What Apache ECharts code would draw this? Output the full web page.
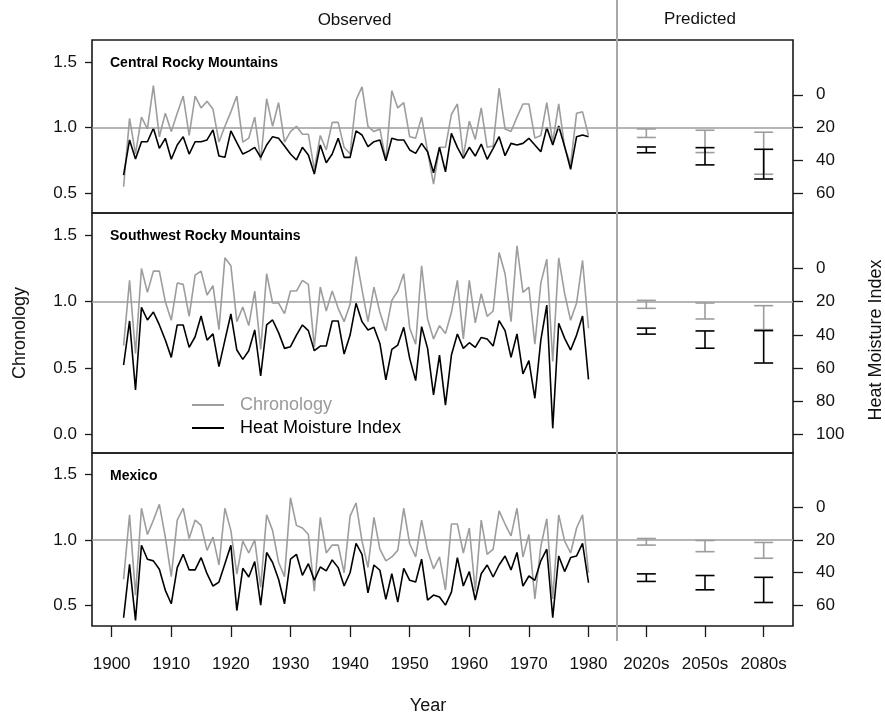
<!DOCTYPE html>
<html>
<head>
<meta charset="utf-8">
<script src="https://cdn.jsdelivr.net/npm/echarts@6/dist/echarts.min.js"></script>
<style>
html,body{margin:0;padding:0;background:#fff;}
#chart{width:885px;height:717px;}
</style>
</head>
<body>
<div id="chart"></div>
<script>
// ---------------- DATA ----------------
const years = [1902,1903,1904,1905,1906,1907,1908,1909,1910,1911,1912,1913,1914,1915,1916,1917,1918,1919,1920,1921,
  1922,1923,1924,1925,1926,1927,1928,1929,1930,1931,1932,1933,1934,1935,1936,1937,1938,1939,1940,1941,
  1942,1943,1944,1945,1946,1947,1948,1949,1950,1951,1952,1953,1954,1955,1956,1957,1958,1959,1960,1961,
  1962,1963,1964,1965,1966,1967,1968,1969,1970,1971,1972,1973,1974,1975,1976,1977,1978,1979,1980];

const yearTicks = [1900,1910,1920,1930,1940,1950,1960,1970,1980];
const periods = ['2020s','2050s','2080s'];

const regionNames = ['Central Rocky Mountains','Southwest Rocky Mountains','Mexico'];

// Central Rocky Mountains
const crmChron = [0.55,1.07,0.80,1.08,0.99,1.32,0.93,1.11,0.97,1.11,
  1.24,0.94,1.24,1.15,1.20,1.14,0.89,1.01,1.12,1.24,
  0.89,0.92,1.08,0.75,1.22,1.01,1.19,0.89,0.97,1.01,
  0.95,0.95,0.68,0.94,0.83,1.04,1.04,0.85,0.80,1.21,
  1.31,1.01,0.97,0.99,0.75,1.28,1.15,1.19,0.93,0.92,
  1.08,0.82,0.57,0.85,0.85,1.10,1.18,0.78,1.05,0.91,
  1.15,0.85,0.86,1.30,0.99,0.97,1.08,1.18,1.18,0.92,
  0.94,1.19,0.89,1.18,0.85,0.72,1.11,1.12,0.94];
const crmHmi = [48.9,27.5,39.1,28.6,28.6,20.4,32.6,26.5,39.3,30.6,
  25.5,36.1,28.6,28.6,27.5,21.4,37.3,38.1,22.0,29.2,
  36.1,34.3,32.0,38.1,30.6,25.5,26.5,31.2,36.1,39.7,
  32.0,36.7,48.3,30.6,41.4,36.1,26.5,38.1,38.1,22.0,
  24.5,31.6,28.6,27.5,40.2,26.5,27.5,27.5,33.6,35.7,
  29.6,34.7,47.5,32.0,46.9,23.5,32.0,38.7,32.0,37.3,
  30.0,39.3,32.6,25.5,37.1,29.6,30.6,29.6,26.5,30.6,
  34.7,20.0,30.6,19.0,31.6,45.4,25.5,24.5,25.5];

// Southwest Rocky Mountains
const swChron = [0.67,1.16,0.61,1.25,1.07,1.23,1.23,1.00,0.86,1.14,
  1.13,0.89,1.20,1.23,1.05,1.12,0.79,1.33,1.27,0.85,
  0.96,0.82,1.08,0.64,1.21,0.99,0.99,0.91,1.08,1.08,
  1.16,1.13,0.66,1.11,0.93,1.08,0.95,0.85,0.98,1.34,
  1.09,0.85,1.11,0.92,0.78,1.01,1.08,1.21,0.80,0.68,
  1.27,0.87,0.72,0.82,0.76,0.92,1.16,0.72,1.16,0.84,
  1.06,0.89,0.93,1.37,1.21,0.85,1.42,1.07,1.11,0.68,
  1.14,1.32,0.55,1.33,1.06,0.86,0.99,1.31,0.80];
const swHmi = [58.1,31.6,73.1,23.4,31.0,26.2,34.0,43.1,53.5,34.0,
  34.0,47.5,41.1,28.6,43.1,39.4,59.1,43.1,27.4,49.1,
  54.7,49.5,37.0,64.7,34.0,31.0,38.6,48.1,47.1,40.1,
  34.0,37.4,49.5,46.7,46.7,31.6,31.6,51.5,40.1,21.0,
  32.0,37.0,35.4,45.1,67.1,48.7,46.1,35.4,54.1,67.5,
  35.0,48.1,76.1,52.1,82.2,52.1,39.4,48.1,44.7,47.5,
  41.5,42.5,46.7,31.4,37.4,53.5,39.4,63.5,55.5,78.1,
  43.1,22.0,96.2,33.0,42.1,49.1,40.1,28.6,66.7];

// Mexico
const mxChron = [0.70,1.19,0.58,1.24,1.04,1.15,1.27,1.02,0.72,1.15,
  1.24,1.01,1.15,1.11,0.92,1.02,0.81,1.24,1.07,0.74,
  0.99,0.90,1.00,0.64,1.19,1.07,0.83,0.72,1.32,1.11,
  1.09,1.04,0.61,1.17,0.90,0.96,0.96,0.75,1.18,1.28,
  0.99,0.79,1.17,0.93,0.84,0.87,0.92,1.24,0.97,0.87,
  1.15,0.92,0.78,0.87,0.62,1.12,1.12,0.90,1.09,0.61,
  1.15,0.89,0.93,1.22,1.12,1.03,1.24,0.87,1.04,0.55,
  0.95,1.16,0.55,1.19,0.99,0.90,1.09,1.19,0.75];
const mxHmi = [67.4,34.9,69.0,23.3,31.8,32.8,37.9,50.7,58.9,36.9,
  28.8,38.3,38.3,30.8,40.6,48.1,45.7,34.5,23.3,63.0,
  37.3,42.6,33.2,59.7,27.7,33.8,44.0,58.9,31.8,28.8,
  41.6,34.5,44.6,36.5,38.9,32.2,36.9,48.1,40.0,22.2,
  28.8,52.2,35.3,38.5,56.2,40.6,57.9,37.3,44.6,45.7,
  31.8,56.6,53.6,54.8,59.7,51.8,30.8,48.1,39.3,56.6,
  40.6,35.3,42.6,35.3,29.8,38.3,27.7,48.1,42.0,44.6,
  32.8,25.7,67.4,29.8,39.3,30.8,29.8,22.2,46.1];

// Predicted ranges (low, high) per period
const crmPredChronLow = [0.925,0.81,0.645];
const crmPredChronHigh = [0.99,0.98,0.965];
const crmPredHmiLow = [31.8,32.2,33.2];
const crmPredHmiHigh = [35.3,42.7,51.3];

const swPredChronLow = [0.95,0.87,0.79];
const swPredChronHigh = [1.01,0.99,0.97];
const swPredHmiLow = [35.9,37.6,37.4];
const swPredHmiHigh = [39.5,48.0,56.9];

const mxPredChronLow = [0.96,0.91,0.86];
const mxPredChronHigh = [1.01,0.995,0.98];
const mxPredHmiLow = [40.7,41.7,42.8];
const mxPredHmiHigh = [45.3,50.4,58.1];

// Axis tick labels
const chronTicksA = [0.5,1.0,1.5];
const chronTicksB = [0.0,0.5,1.0,1.5];
const hmiTicksA = [0,20,40,60];
const hmiTicksB = [0,20,40,60,80,100];

// ---------------- LAYOUT / STYLE ----------------
const FONT = '"Liberation Sans", Arial, Helvetica, sans-serif';
const GRAY = '#9d9d9d';
const BLACK = '#000000';
const FRAME = '#1a1a1a';
const TICK_FS = 17, TITLE_FS = 18;
const L = 92, R = 793, SEP = 617;
const panels = [
  {top:40,  h:173, cMin:0.35,  cMax:1.667, cTicks:chronTicksA, hTicks:hmiTicksA,
   chron:crmChron, hmi:crmHmi, pcl:crmPredChronLow, pch:crmPredChronHigh, phl:crmPredHmiLow, phh:crmPredHmiHigh},
  {top:213, h:240, cMin:-0.138, cMax:1.667, cTicks:chronTicksB, hTicks:hmiTicksB,
   chron:swChron, hmi:swHmi, pcl:swPredChronLow, pch:swPredChronHigh, phl:swPredHmiLow, phh:swPredHmiHigh},
  {top:453, h:173, cMin:0.345, cMax:1.66, cTicks:chronTicksA, hTicks:hmiTicksA,
   chron:mxChron, hmi:mxHmi, pcl:mxPredChronLow, pch:mxPredChronHigh, phl:mxPredHmiLow, phh:mxPredHmiHigh}
];
// HMI axis aligned so that HMI 20 sits on chronology 1.0 and 40 HMI units span 0.5 chronology units
const toHmi = c => 20 + 80 * (1 - c);

function errRender(color, width) {
  return function (params, api) {
    const x = api.value(0);
    const lo = api.coord([x, api.value(1)]);
    const hi = api.coord([x, api.value(2)]);
    const hw = 9.5;
    const st = {stroke: color, lineWidth: width};
    return {type:'group', children:[
      {type:'line', shape:{x1:lo[0], y1:lo[1], x2:hi[0], y2:hi[1]}, style:st},
      {type:'line', shape:{x1:lo[0]-hw, y1:lo[1], x2:lo[0]+hw, y2:lo[1]}, style:st},
      {type:'line', shape:{x1:hi[0]-hw, y1:hi[1], x2:hi[0]+hw, y2:hi[1]}, style:st}
    ]};
  };
}

const grids = [], xAxes = [], yAxes = [], series = [];
const refLine = {silent:true, symbol:['none','none'], label:{show:false},
  lineStyle:{color:GRAY, type:'solid', width:1.6}, emphasis:{disabled:true}, data:[{yAxis:1}]};

panels.forEach((p, k) => {
  const last = (k === panels.length - 1);
  const gO = grids.length;
  grids.push({left:L, width:SEP-L, top:p.top, height:p.h, show:true, borderColor:FRAME, borderWidth:1.6, backgroundColor:'transparent'});
  const gP = grids.length;
  grids.push({left:SEP, width:R-SEP, top:p.top, height:p.h, show:true, borderColor:FRAME, borderWidth:1.6, backgroundColor:'transparent'});

  const xO = xAxes.length;
  xAxes.push({type:'value', gridIndex:gO, position:'bottom', min:1896.7, max:1984.78, show:last,
    axisLine:{show:false, onZero:false}, splitLine:{show:false},
    axisTick:{show:true, length:11, customValues:yearTicks, lineStyle:{color:FRAME, width:1.3}},
    axisLabel:{show:true, customValues:yearTicks, margin:30, hideOverlap:false, fontSize:TICK_FS, fontFamily:FONT, color:'#111', formatter:v=>String(v)}});
  const xP = xAxes.length;
  xAxes.push({type:'category', gridIndex:gP, position:'bottom', data:periods, show:last,
    axisLine:{show:false, onZero:false}, splitLine:{show:false},
    axisTick:{show:true, interval:0, alignWithLabel:true, length:11, lineStyle:{color:FRAME, width:1.3}},
    axisLabel:{show:true, interval:0, hideOverlap:false, margin:30, fontSize:TICK_FS, fontFamily:FONT, color:'#111'}});

  const hMin = toHmi(p.cMax), hMax = toHmi(p.cMin);
  const yOc = yAxes.length;
  yAxes.push({type:'value', gridIndex:gO, position:'left', min:p.cMin, max:p.cMax,
    axisLine:{show:false, onZero:false}, splitLine:{show:false},
    axisTick:{show:true, length:7, customValues:p.cTicks, lineStyle:{color:FRAME, width:1.3}},
    axisLabel:{show:true, customValues:p.cTicks, margin:15, fontSize:TICK_FS, fontFamily:FONT, color:'#111', formatter:v=>v.toFixed(1)}});
  const yOh = yAxes.length;
  yAxes.push({type:'value', gridIndex:gO, position:'right', inverse:true, min:hMin, max:hMax, show:false, splitLine:{show:false}});
  const yPc = yAxes.length;
  yAxes.push({type:'value', gridIndex:gP, position:'left', min:p.cMin, max:p.cMax, show:false, splitLine:{show:false}});
  const yPh = yAxes.length;
  yAxes.push({type:'value', gridIndex:gP, position:'right', inverse:true, min:hMin, max:hMax,
    axisLine:{show:false, onZero:false}, splitLine:{show:false},
    axisTick:{show:true, length:10, customValues:p.hTicks, lineStyle:{color:FRAME, width:1.3}},
    axisLabel:{show:true, customValues:p.hTicks, margin:23, fontSize:TICK_FS, fontFamily:FONT, color:'#111', formatter:v=>String(v)}});

  series.push({name:'Chronology', type:'line', xAxisIndex:xO, yAxisIndex:yOc, symbol:'none', silent:true,
    lineStyle:{color:GRAY, width:1.6}, itemStyle:{color:GRAY},
    data: years.map((y,i)=>[y, p.chron[i]]), markLine: refLine, z:2});
  series.push({name:'Heat Moisture Index', type:'line', xAxisIndex:xO, yAxisIndex:yOh, symbol:'none', silent:true,
    lineStyle:{color:BLACK, width:1.6}, itemStyle:{color:BLACK},
    data: years.map((y,i)=>[y, p.hmi[i]]), z:3});
  series.push({type:'custom', xAxisIndex:xP, yAxisIndex:yPc, silent:true, renderItem:errRender(GRAY, 1.6),
    encode:{x:0, y:[1,2]}, data: periods.map((q,j)=>[q, p.pcl[j], p.pch[j]]), markLine: refLine, z:2});
  series.push({type:'custom', xAxisIndex:xP, yAxisIndex:yPh, silent:true, renderItem:errRender(BLACK, 1.6),
    encode:{x:0, y:[1,2]}, data: periods.map((q,j)=>[q, p.phl[j], p.phh[j]]), z:3});
});

const graphic = [
  {type:'line', shape:{x1:SEP, y1:0, x2:SEP, y2:641}, style:{stroke:'#a8a8a8', lineWidth:2}, z:100, silent:true},
  {type:'text', x:(L+SEP)/2, y:20, style:{text:'Observed', font:TICK_FS+'px '+FONT, fill:'#111', textAlign:'center', textVerticalAlign:'middle'}},
  {type:'text', x:700, y:19, style:{text:'Predicted', font:TICK_FS+'px '+FONT, fill:'#111', textAlign:'center', textVerticalAlign:'middle'}},
  {type:'text', x:428, y:706, style:{text:'Year', font:TITLE_FS+'px '+FONT, fill:'#111', textAlign:'center', textVerticalAlign:'middle'}},
  {type:'text', x:20, y:333, rotation:Math.PI/2, style:{text:'Chronology', font:TITLE_FS+'px '+FONT, fill:'#111', textAlign:'center', textVerticalAlign:'middle'}},
  {type:'text', x:876, y:340, rotation:Math.PI/2, style:{text:'Heat Moisture Index', font:TITLE_FS+'px '+FONT, fill:'#111', textAlign:'center', textVerticalAlign:'middle'}}
];
panels.forEach((p, k) => {
  graphic.push({type:'text', x:110, y:p.top+23, style:{text:regionNames[k], font:'bold 14px '+FONT, fill:'#000', textAlign:'left', textVerticalAlign:'middle'}});
});

const chart = echarts.init(document.getElementById('chart'), null, {renderer:'canvas'});
chart.setOption({
  animation:false,
  backgroundColor:'#ffffff',
  grid: grids, xAxis: xAxes, yAxis: yAxes, series: series,
  legend:{left:186, top:391, orient:'vertical', itemWidth:32, itemHeight:14, itemGap:5, selectedMode:false,
    itemStyle:{opacity:0, borderWidth:0},
    textStyle:{fontSize:18, fontFamily:FONT, padding:[0,0,0,11]},
    data:[{name:'Chronology', textStyle:{color:'#9a9a9a'}}, {name:'Heat Moisture Index', textStyle:{color:'#000'}}]},
  graphic: graphic
});
</script>
</body>
</html>
